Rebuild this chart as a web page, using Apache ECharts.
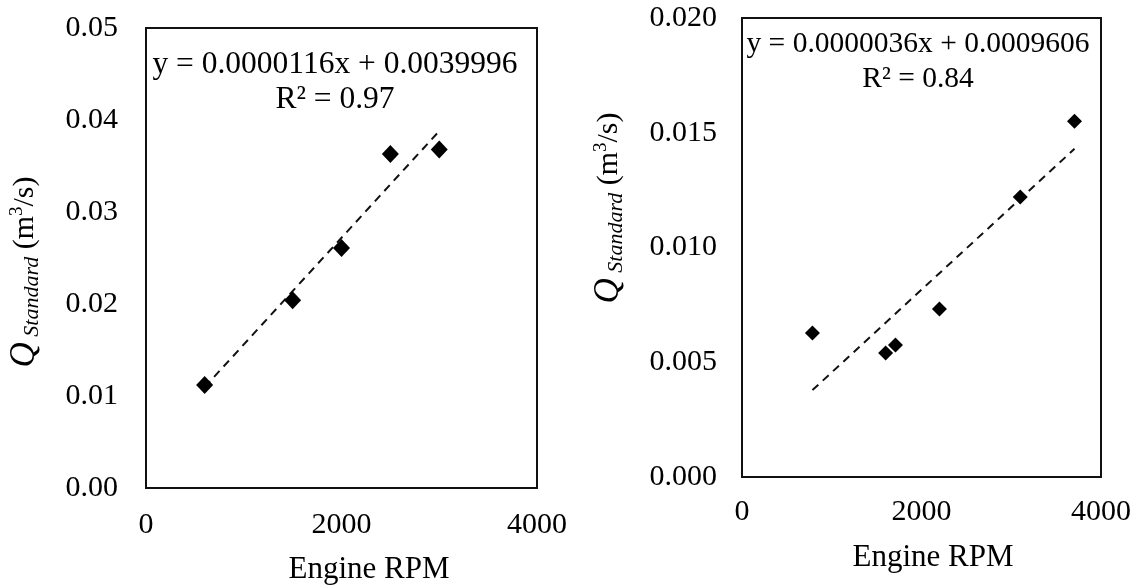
<!DOCTYPE html>
<html>
<head>
<meta charset="utf-8">
<script src="https://cdn.jsdelivr.net/npm/echarts@6/dist/echarts.min.js"></script>
<style>
html,body{margin:0;padding:0;background:#fff;}
#c{width:1139px;height:588px;}
</style>
</head>
<body>
<div id="c"></div>
<script>
// ---- data ----
const rpmLeft = [600, 1500, 2000, 2500, 3000];
const qLeft = [0.0112, 0.0204, 0.0261, 0.0363, 0.0368];
const trendLeft = [0.0000116, 0.0039996]; // slope, intercept
const eqLeft = ['y = 0.0000116x + 0.0039996', 'R² = 0.97'];

const rpmRight = [785, 1600, 1710, 2200, 3100, 3705];
const qRight = [0.00627, 0.0054, 0.00575, 0.00732, 0.0122, 0.0155];
const trendRight = [0.0000036, 0.0009606];
const eqRight = ['y = 0.0000036x + 0.0009606', 'R² = 0.84'];

const xTicks = [0, 2000, 4000];
const yTicksLeft = [0, 0.01, 0.02, 0.03, 0.04, 0.05];
const yTicksRight = [0, 0.005, 0.010, 0.015, 0.020];
const xTitle = 'Engine RPM';

const FONT = '"Liberation Serif", "Times New Roman", serif';
const INK = '#000';

function pts(xs, ys) { return xs.map((x, i) => [x, ys[i]]); }
function trend(xs, c) {
  const a = Math.min(...xs), b = Math.max(...xs);
  return [[a, c[0] * a + c[1]], [b, c[0] * b + c[1]]];
}

const chart = echarts.init(document.getElementById('c'), null, {renderer: 'canvas'});

function xAxisCfg(gi, margin) {
  return {
    gridIndex: gi, type: 'value', min: xTicks[0], max: xTicks[xTicks.length - 1], interval: xTicks[1] - xTicks[0],
    axisLine: {show: false}, axisTick: {show: false}, splitLine: {show: false},
    axisLabel: {color: INK, fontFamily: FONT, fontSize: 30, margin: margin, formatter: v => String(v)}
  };
}
function yAxisCfg(gi, ticks, dec, margin) {
  return {
    gridIndex: gi, type: 'value', min: ticks[0], max: ticks[ticks.length - 1], interval: ticks[1] - ticks[0],
    axisLine: {show: false}, axisTick: {show: false}, splitLine: {show: false},
    axisLabel: {color: INK, fontFamily: FONT, fontSize: 30, margin: margin,
      formatter: v => v.toFixed(dec)}
  };
}

const titleRich = {
  q: {fontFamily: FONT, fontStyle: 'italic', fontSize: 35, color: INK},
  s: {fontFamily: FONT, fontStyle: 'italic', fontSize: 22, color: INK, padding: [14, 0, 0, 0]},
  n: {fontFamily: FONT, fontSize: 30, color: INK},
  sup: {fontFamily: FONT, fontSize: 19, color: INK, padding: [0, 0, 16, 0]}
};
const yTitleText = '{q|Q}{s| Standard}{n| (m}{sup|3}{n|/s)}';

function eqText(x, y, lines, size) {
  return {
    type: 'text', x: x, y: y,
    style: {text: lines.join('\n'), font: size + 'px ' + FONT, fill: INK,
      align: 'center', verticalAlign: 'middle', lineHeight: 35}
  };
}

chart.setOption({
  animation: false,
  backgroundColor: '#fff',
  grid: [
    {left: 146, top: 28, width: 391, height: 460, show: true, borderColor: '#111', borderWidth: 2, backgroundColor: 'transparent'},
    {left: 742, top: 18, width: 359, height: 459, show: true, borderColor: '#111', borderWidth: 2, backgroundColor: 'transparent'}
  ],
  xAxis: [xAxisCfg(0, 22), xAxisCfg(1, 20)],
  yAxis: [yAxisCfg(0, yTicksLeft, 2, 28), yAxisCfg(1, yTicksRight, 3, 25)],
  series: [
    {type: 'line', xAxisIndex: 0, yAxisIndex: 0, data: trend(rpmLeft, trendLeft), symbol: 'none',
      lineStyle: {color: '#111', width: 2, type: [8, 6]}, z: 2},
    {type: 'scatter', xAxisIndex: 0, yAxisIndex: 0, data: pts(rpmLeft, qLeft), symbol: 'diamond',
      symbolSize: [17, 18], itemStyle: {color: '#000', opacity: 1}, z: 3},
    {type: 'line', xAxisIndex: 1, yAxisIndex: 1, data: trend(rpmRight, trendRight), symbol: 'none',
      lineStyle: {color: '#111', width: 2, type: [8, 6]}, z: 2},
    {type: 'scatter', xAxisIndex: 1, yAxisIndex: 1, data: pts(rpmRight, qRight), symbol: 'diamond',
      symbolSize: [15, 15], itemStyle: {color: '#000', opacity: 1}, z: 3}
  ],
  graphic: [
    eqText(335, 82, eqLeft, 31.5),
    eqText(918, 62, eqRight, 29.5),
    {type: 'text', x: 369, y: 570, style: {text: xTitle, font: '31px ' + FONT, fill: INK, align: 'center', verticalAlign: 'middle'}},
    {type: 'text', x: 933, y: 558, style: {text: xTitle, font: '31px ' + FONT, fill: INK, align: 'center', verticalAlign: 'middle'}},
    {type: 'text', x: 25, y: 272, rotation: Math.PI / 2,
      style: {text: yTitleText, rich: titleRich, align: 'center', verticalAlign: 'middle', fill: INK}},
    {type: 'text', x: 609, y: 208, rotation: Math.PI / 2,
      style: {text: yTitleText, rich: titleRich, align: 'center', verticalAlign: 'middle', fill: INK}}
  ]
});
</script>
</body>
</html>
